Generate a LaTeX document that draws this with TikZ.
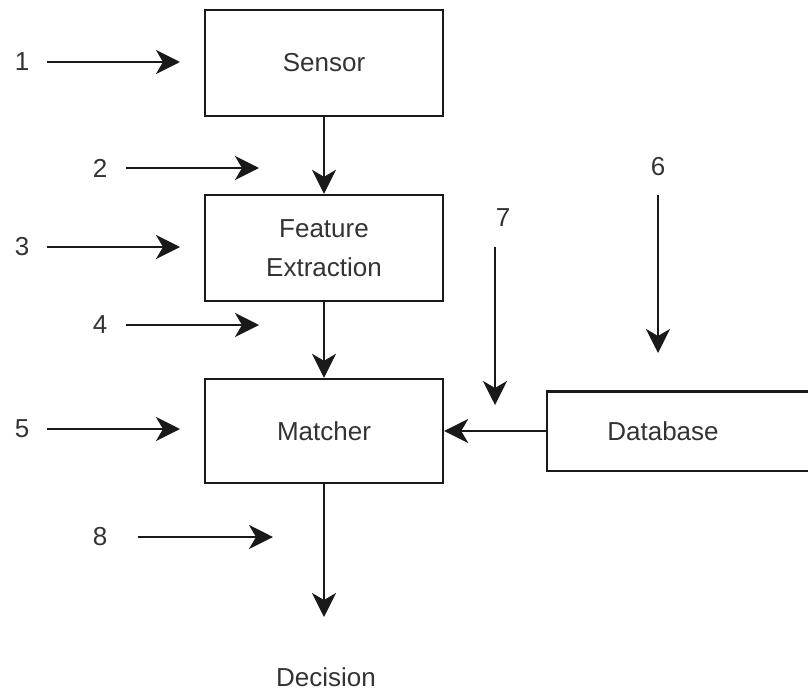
\documentclass[tikz,border=0pt]{standalone}
\usepackage{fontspec}
\setmainfont{Liberation Sans}
\usetikzlibrary{arrows.meta}
\begin{document}
\begin{tikzpicture}[x=1pt,y=-1pt,
  every node/.style={font=\fontsize{26pt}{39pt}\selectfont, text=black!80, inner sep=0pt},
  blk/.style={draw=black!90, line width=2.4pt, minimum width=238pt, minimum height=106pt, align=center},
  arr/.style={draw=black!90, line width=2.4pt, -{Stealth[length=24pt,width=24pt,inset=7pt]}},
  edge/.style={draw=black!90, line width=2.4pt}]
\useasboundingbox (0,0) rectangle (808,693);
\node[blk] (sensor) at (324,63) {Sensor};
\node[blk] (fe) at (324,248) {Feature\\Extraction};
\node[blk, minimum height=104pt] (matcher) at (324,431) {Matcher};
\node[minimum width=232pt, minimum height=79pt] (db) at (663,431) {Database};
\draw[edge] (db.north west) ++(280,0) -- (db.north west) -- (db.south west) -- ++(280,0);
\node (dec) at (326,677) {Decision};
\coordinate (decend) at (324,617);

\node (n1) at (22,62) {1};
\node (n2) at (100,168) {2};
\node (n3) at (22,247) {3};
\node (n4) at (100,325) {4};
\node (n5) at (22,429) {5};
\node (n6) at (658,167) {6};
\node (n7) at (503,218) {7};
\node (n8) at (100,537) {8};

\coordinate (s1) at (47,62);   \coordinate (e1) at (180,62);
\coordinate (s2) at (126,168); \coordinate (e2) at (259,168);
\coordinate (s3) at (47,247);  \coordinate (e3) at (180,247);
\coordinate (s4) at (126,325); \coordinate (e4) at (259,325);
\coordinate (s5) at (47,429);  \coordinate (e5) at (180,429);
\coordinate (s6) at (658,195); \coordinate (e6) at (658,353);
\coordinate (s7) at (495,247); \coordinate (e7) at (495,405);
\coordinate (s8) at (138,537); \coordinate (e8) at (273,537);

\foreach \i in {1,...,8} { \draw[arr] (s\i) -- (e\i); }

\draw[arr] (sensor.south) -- (fe.north);
\draw[arr] (fe.south) -- (matcher.north);
\draw[arr] (db.west) -- (matcher.east);
\draw[arr] (matcher.south) -- (decend);
\end{tikzpicture}
\end{document}
